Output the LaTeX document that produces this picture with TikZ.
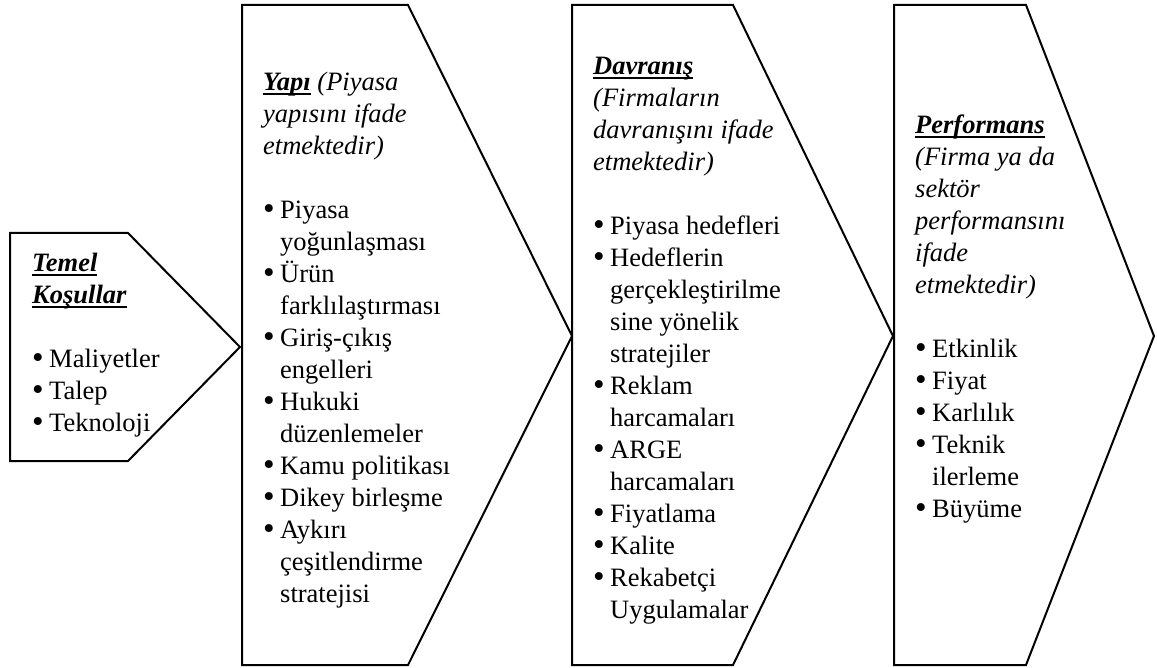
\documentclass[tikz,border=0pt]{standalone}
\usepackage{fontspec}
\setmainfont{Liberation Serif}
\newcommand\ulb[1]{\leavevmode\setbox0\hbox{\textbf{\textit{#1}}}\rlap{\raisebox{-4.5pt}{\rule{\wd0}{2pt}}}\box0}
\newcommand\bul{\leavevmode\makebox[17pt][l]{\raisebox{-1pt}{\scalebox{1.25}{\textbullet}}}}
\newcommand\ind{\leavevmode\hspace*{17pt}}
\newcommand\txtfont{\fontsize{26.5}{32}\selectfont}
\tikzset{
  chev/.style={draw=black, line width=2pt, line join=miter, fill=white},
  txt/.style={anchor=base west, inner sep=0pt}
}
\begin{document}
\begin{tikzpicture}[x=1pt,y=-1pt]
\useasboundingbox (0,0) rectangle (1157,668);
\fill[white] (0,0) rectangle (1157,668);
% shapes
\draw[chev] (10,233) -- (128,233) -- (240,347) -- (128,461) -- (10,461) -- cycle;
\draw[chev] (242,5) -- (408,5) -- (572,336) -- (408,665) -- (242,665) -- cycle;
\draw[chev] (572,5) -- (733,5) -- (893,336) -- (733,665) -- (572,665) -- cycle;
\draw[chev] (894,5) -- (1026,5) -- (1154,336) -- (1026,665) -- (894,665) -- cycle;
% texts
\node[txt] (t1) at (32,272) {\parbox[t]{200pt}{\txtfont
\ulb{Temel}\\
\ulb{Koşullar}\\[32pt]
\bul Maliyetler\\
\bul Talep\\
\bul Teknoloji}};
\node[txt] (t2) at (263,91) {\parbox[t]{300pt}{\txtfont
\ulb{Yapı}\textit{ (Piyasa}\\
\textit{yapısını ifade}\\
\textit{etmektedir)}\\[32pt]
\bul Piyasa\\
\ind yoğunlaşması\\
\bul Ürün\\
\ind farklılaştırması\\
\bul Giriş-çıkış\\
\ind engelleri\\
\bul Hukuki\\
\ind düzenlemeler\\
\bul Kamu politikası\\
\bul Dikey birleşme\\
\bul Aykırı\\
\ind çeşitlendirme\\
\ind stratejisi}};
\node[txt] (t3) at (593,75) {\parbox[t]{300pt}{\txtfont
\ulb{Davranış}\\
\textit{(Firmaların}\\
\textit{davranışını ifade}\\
\textit{etmektedir)}\\[32pt]
\bul Piyasa hedefleri\\
\bul Hedeflerin\\
\ind gerçekleştirilme\\
\ind sine yönelik\\
\ind stratejiler\\
\bul Reklam\\
\ind harcamaları\\
\bul ARGE\\
\ind harcamaları\\
\bul Fiyatlama\\
\bul Kalite\\
\bul Rekabetçi\\
\ind Uygulamalar}};
\node[txt] (t4) at (915,134) {\parbox[t]{220pt}{\txtfont
\ulb{Performans}\\
\textit{(Firma ya da}\\
\textit{sektör}\\
\textit{performansını}\\
\textit{ifade}\\
\textit{etmektedir)}\\[32pt]
\bul Etkinlik\\
\bul Fiyat\\
\bul Karlılık\\
\bul Teknik\\
\ind ilerleme\\
\bul Büyüme}};
\end{tikzpicture}
\end{document}
